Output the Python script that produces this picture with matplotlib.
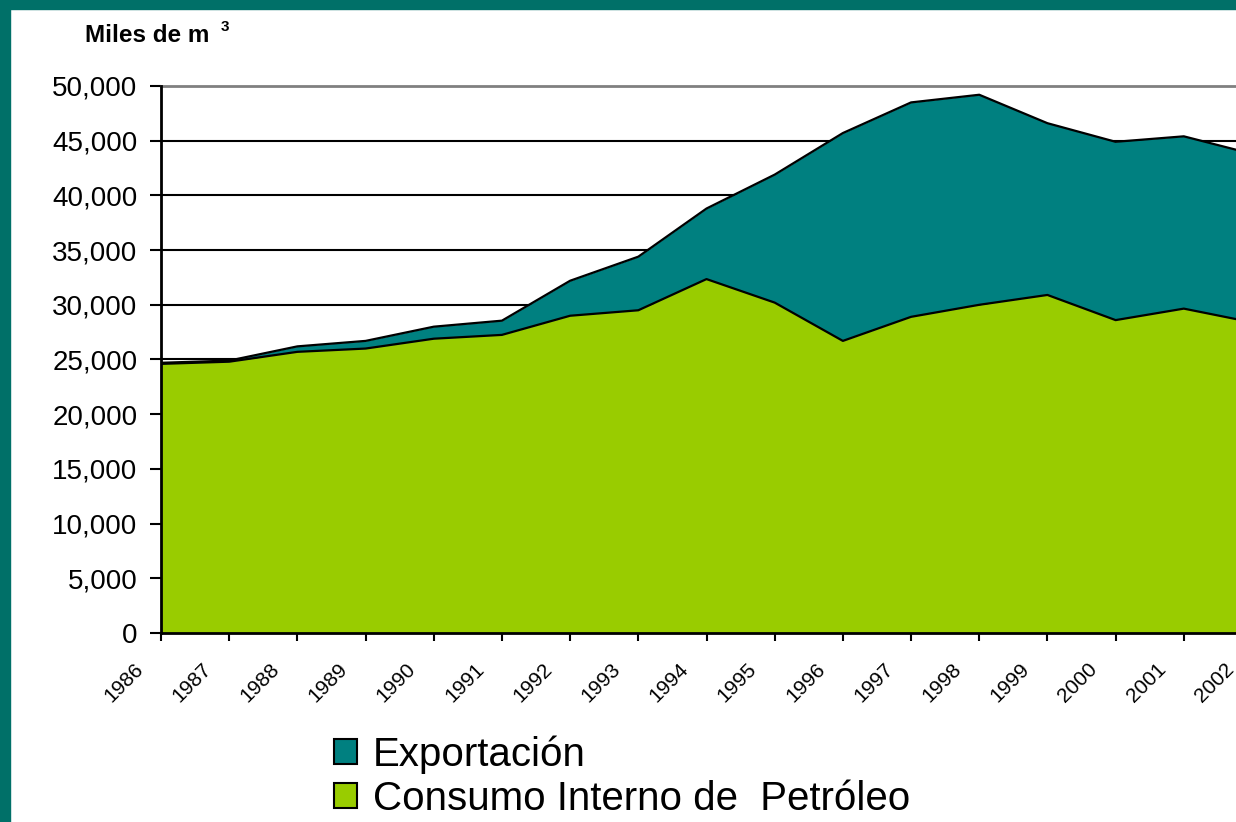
import numpy as np
import matplotlib
matplotlib.use('Agg')
import matplotlib.pyplot as plt
from matplotlib.patches import Patch, Rectangle
from matplotlib.ticker import FuncFormatter
from matplotlib.transforms import ScaledTranslation

# Data (miles de m3)
years = [1986, 1987, 1988, 1989, 1990, 1991, 1992, 1993, 1994,
         1995, 1996, 1997, 1998, 1999, 2000, 2001, 2002]
consumo = [24600, 24800, 25700, 26000, 26900, 27250, 29000, 29500, 32350,
           30200, 26700, 28900, 30000, 30900, 28600, 29650, 28400]
exportacion = [100, 100, 500, 700, 1100, 1300, 3200, 4900, 6450,
               11700, 19000, 19600, 19200, 15700, 16300, 15750, 15400]
y_ticks = [0, 5000, 10000, 15000, 20000, 25000, 30000, 35000, 40000, 45000, 50000]

green = '#99CC00'
teal = '#008080'
border = '#007068'

plt.rcParams['font.family'] = ['Liberation Sans', 'DejaVu Sans']

fig = plt.figure(figsize=(12.36, 8.22), dpi=100)
fig.patch.set_facecolor('white')

# teal frame on left and top
W, H = 1236, 822
fig.patches.append(Rectangle((0, 0), 10 / W, 1, transform=fig.transFigure,
                             color=border, zorder=0))
fig.patches.append(Rectangle((0, 1 - 9 / H), 1, 9 / H, transform=fig.transFigure,
                             color=border, zorder=0))

ax = fig.add_axes([161 / W, 1 - 633 / H, (1252 - 161) / W, (633 - 86) / H])

total = np.array(consumo) + np.array(exportacion)
ax.fill_between(years, 0, consumo, color=green, linewidth=0, zorder=2)
ax.fill_between(years, consumo, total, color=teal, linewidth=0, zorder=2)
ax.plot(years, consumo, color='black', linewidth=1.6, zorder=3)
ax.plot(years, total, color='black', linewidth=1.6, zorder=3)

for v in y_ticks[1:-1]:
    ax.axhline(v, color='black', linewidth=1.5, zorder=1)

ax.set_xlim(1986, 2002)
ax.set_ylim(0, 50000)
ax.set_yticks(y_ticks)
ax.yaxis.set_major_formatter(FuncFormatter(lambda v, p: f'{v:,.0f}'))
ax.set_xticks(years)
ax.set_xticklabels([])

# rotated year labels, placed below-left of each tick
shift = ScaledTranslation(-0.21, -0.33, fig.dpi_scale_trans)
for yr in years:
    ax.text(yr, 0, str(yr), transform=ax.get_xaxis_transform() + shift,
            rotation=45, ha='right', va='center', rotation_mode='anchor',
            fontsize=15, clip_on=False)

ax.tick_params(axis='y', direction='out', length=8, width=1.5, labelsize=20, pad=9)
ax.tick_params(axis='x', direction='out', length=6, width=1.5, pad=0)

for side in ['left', 'bottom']:
    ax.spines[side].set_linewidth(2)
    ax.spines[side].set_zorder(4)
ax.spines['right'].set_visible(False)
ax.spines['top'].set_color('#808080')
ax.spines['top'].set_linewidth(2)

fig.text(85 / W, 1 - 36 / H, 'Miles de m', fontsize=17.5, fontweight='bold',
         va='center', ha='left')
fig.text(221 / W, 1 - 27 / H, '3', fontsize=11, fontweight='bold',
         va='center', ha='left')

handles = [Patch(facecolor=teal, edgecolor='black', linewidth=1.5),
           Patch(facecolor=green, edgecolor='black', linewidth=1.5)]
fig.legend(handles, ['Exportación', 'Consumo Interno de  Petróleo'],
           loc='upper left', bbox_to_anchor=(318 / W, 1 - 719 / H),
           frameon=False, fontsize=29, handlelength=0.57, handleheight=0.57,
           handletextpad=0.4, labelspacing=0.16, borderaxespad=0)

fig.savefig('out.png', dpi=100, facecolor=fig.get_facecolor())
